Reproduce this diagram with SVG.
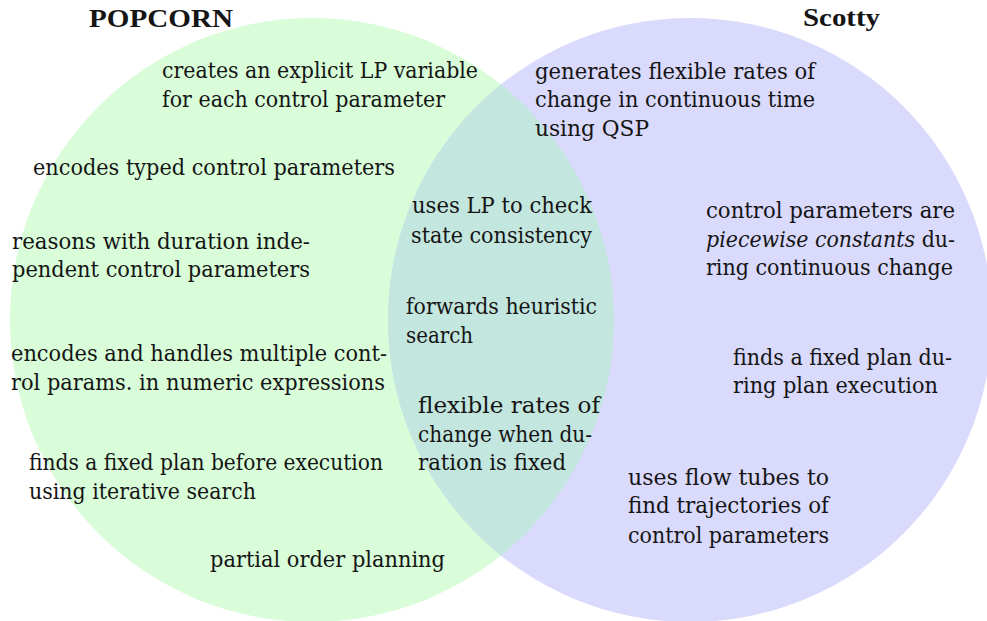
<svg xmlns="http://www.w3.org/2000/svg" width="987" height="621" viewBox="0 0 987 621">
  <style>
    .t { font-family: "DejaVu Serif", "Liberation Serif", serif; font-size: 22px; fill: #151515; }
    .h { font-family: "Liberation Serif", "DejaVu Serif", serif; font-size: 24.5px; font-weight: bold; }
    .i { font-style: italic; }
    .pop { fill: #d9fdd9; }
    .sco { fill: #dadafc; }
    .both { fill: #c3e6de; }
  </style>
  <defs>
    <clipPath id="clipPop">
      <circle cx="312" cy="320" r="302"/>
    </clipPath>
  </defs>

  <!-- set circles -->
  <g id="sets">
    <circle class="pop" cx="312" cy="320" r="302"/>
    <circle class="sco" cx="690" cy="320" r="302"/>
    <circle class="both" cx="690" cy="320" r="302" clip-path="url(#clipPop)"/>
  </g>

  <!-- set titles -->
  <g id="title-popcorn">
    <text class="t h" x="89" y="27" textLength="144" lengthAdjust="spacingAndGlyphs">POPCORN</text>
  </g>
  <g id="title-scotty">
    <text class="t h" x="803" y="26" textLength="77" lengthAdjust="spacingAndGlyphs">Scotty</text>
  </g>

  <!-- POPCORN only -->
  <g id="pop-lp-variable">
    <text class="t" x="162" y="78" textLength="316" lengthAdjust="spacingAndGlyphs">creates an explicit LP variable</text>
    <text class="t" x="162" y="107" textLength="283" lengthAdjust="spacingAndGlyphs">for each control parameter</text>
  </g>
  <g id="pop-typed">
    <text class="t" x="33" y="175" textLength="362" lengthAdjust="spacingAndGlyphs">encodes typed control parameters</text>
  </g>
  <g id="pop-duration">
    <text class="t" x="12" y="249" textLength="298" lengthAdjust="spacingAndGlyphs">reasons with duration inde-</text>
    <text class="t" x="12" y="277" textLength="298" lengthAdjust="spacingAndGlyphs">pendent control parameters</text>
  </g>
  <g id="pop-multiple">
    <text class="t" x="11" y="361" textLength="376" lengthAdjust="spacingAndGlyphs">encodes and handles multiple cont-</text>
    <text class="t" x="11" y="390" textLength="374" lengthAdjust="spacingAndGlyphs">rol params. in numeric expressions</text>
  </g>
  <g id="pop-fixed-plan">
    <text class="t" x="29" y="470" textLength="354" lengthAdjust="spacingAndGlyphs">finds a fixed plan before execution</text>
    <text class="t" x="29" y="499" textLength="227" lengthAdjust="spacingAndGlyphs">using iterative search</text>
  </g>
  <g id="pop-pop">
    <text class="t" x="210" y="567" textLength="235" lengthAdjust="spacingAndGlyphs">partial order planning</text>
  </g>

  <!-- shared -->
  <g id="both-lp">
    <text class="t" x="412" y="213" textLength="180" lengthAdjust="spacingAndGlyphs">uses LP to check</text>
    <text class="t" x="411" y="243" textLength="181" lengthAdjust="spacingAndGlyphs">state consistency</text>
  </g>
  <g id="both-search">
    <text class="t" x="406" y="314" textLength="191" lengthAdjust="spacingAndGlyphs">forwards heuristic</text>
    <text class="t" x="406" y="343" textLength="67" lengthAdjust="spacingAndGlyphs">search</text>
  </g>
  <g id="both-rates">
    <text class="t" x="418" y="413" textLength="182" lengthAdjust="spacingAndGlyphs">flexible rates of</text>
    <text class="t" x="418" y="442" textLength="174" lengthAdjust="spacingAndGlyphs">change when du-</text>
    <text class="t" x="418" y="470" textLength="148" lengthAdjust="spacingAndGlyphs">ration is fixed</text>
  </g>

  <!-- Scotty only -->
  <g id="sco-qsp">
    <text class="t" x="535" y="79" textLength="280" lengthAdjust="spacingAndGlyphs">generates flexible rates of</text>
    <text class="t" x="535" y="107" textLength="280" lengthAdjust="spacingAndGlyphs">change in continuous time</text>
    <text class="t" x="535" y="136" textLength="114" lengthAdjust="spacingAndGlyphs">using QSP</text>
  </g>
  <g id="sco-piecewise">
    <text class="t" x="706" y="218" textLength="249" lengthAdjust="spacingAndGlyphs">control parameters are</text>
    <text class="t" x="706" y="247" textLength="249" lengthAdjust="spacingAndGlyphs"><tspan class="i">piecewise constants</tspan> du-</text>
    <text class="t" x="706" y="275" textLength="247" lengthAdjust="spacingAndGlyphs">ring continuous change</text>
  </g>
  <g id="sco-fixed-plan">
    <text class="t" x="733" y="365" textLength="219" lengthAdjust="spacingAndGlyphs">finds a fixed plan du-</text>
    <text class="t" x="733" y="393" textLength="205" lengthAdjust="spacingAndGlyphs">ring plan execution</text>
  </g>
  <g id="sco-flow-tubes">
    <text class="t" x="628" y="485" textLength="201" lengthAdjust="spacingAndGlyphs">uses flow tubes to</text>
    <text class="t" x="628" y="513" textLength="201" lengthAdjust="spacingAndGlyphs">find trajectories of</text>
    <text class="t" x="628" y="543" textLength="201" lengthAdjust="spacingAndGlyphs">control parameters</text>
  </g>

  <!-- no connectors in this diagram -->
  <g id="connectors"/>
</svg>
